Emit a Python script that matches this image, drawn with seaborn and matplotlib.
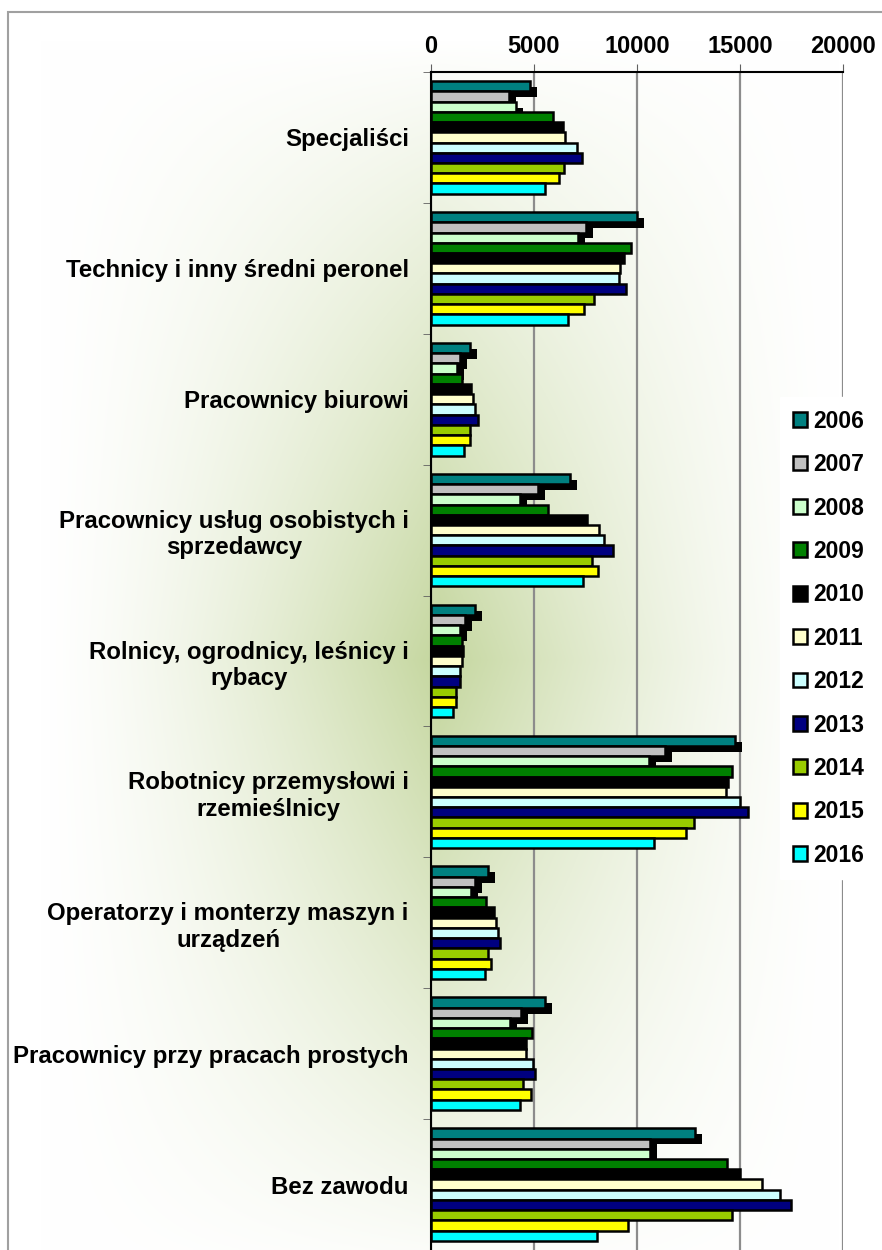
import numpy as np
import pandas as pd
import seaborn as sns
import matplotlib.pyplot as plt
from matplotlib import patheffects
from matplotlib.patches import Rectangle

categories = ["Specjaliści", "Technicy i inny średni peronel", "Pracownicy biurowi",
              "Pracownicy usług osobistych i\nsprzedawcy",
              "Rolnicy, ogrodnicy, leśnicy i\nrybacy",
              "Robotnicy przemysłowi i\nrzemieślnicy",
              "Operatorzy i monterzy maszyn i\nurządzeń",
              "Pracownicy przy pracach prostych", "Bez zawodu"]
years = ["2006", "2007", "2008", "2009", "2010", "2011",
         "2012", "2013", "2014", "2015", "2016"]

# values per year, same order as categories
v2006 = [4820, 10000, 1880, 6760, 2140, 14770, 2750, 5530, 12800]
v2007 = [3770, 7540, 1390, 5180, 1650, 11380, 2120, 4370, 10630]
v2008 = [4140, 7120, 1260, 4340, 1390, 10570, 1940, 3850, 10610]
v2009 = [5900, 9710, 1500, 5700, 1490, 14610, 2690, 4890, 14380]
v2010 = [6390, 9350, 1940, 7570, 1550, 14400, 3070, 4600, 14980]
v2011 = [6490, 9160, 2040, 8140, 1490, 14300, 3150, 4630, 16050]
v2012 = [7090, 9140, 2120, 8380, 1390, 14980, 3240, 4950, 16920]
v2013 = [7330, 9480, 2260, 8820, 1420, 15370, 3330, 5060, 17470]
v2014 = [6470, 7930, 1880, 7820, 1200, 12780, 2750, 4450, 14610]
v2015 = [6210, 7410, 1910, 8090, 1200, 12380, 2930, 4870, 9550]
v2016 = [5550, 6630, 1620, 7360, 1070, 10810, 2600, 4300, 8060]

colors = ["#008080", "#C0C0C0", "#CCFFCC", "#008000", "#000000", "#FFFFCC",
          "#CCFFFF", "#000080", "#99CC00", "#FFFF00", "#00FFFF"]

series = [v2006, v2007, v2008, v2009, v2010, v2011, v2012, v2013, v2014, v2015, v2016]
rows = []
for yr, vals in zip(years, series):
    for cat, v in zip(categories, vals):
        rows.append({"kategoria": cat, "rok": yr, "liczba": v})
df = pd.DataFrame(rows)

sns.set_style("white")
plt.rcParams['font.family'] = ['Liberation Sans', 'DejaVu Sans']
plt.rcParams['text.color'] = 'black'
plt.rcParams['xtick.color'] = 'black'
plt.rcParams['ytick.color'] = 'black'

fig = plt.figure(figsize=(8.82, 12.5), dpi=100)

# background gradient (chart area)
bg = fig.add_axes([8 / 882, 0, 1 - 8 / 882, 1 - 12 / 1250], zorder=-5)
xx, yy = np.meshgrid(np.linspace(8, 882, 440), np.linspace(12, 1250, 620))
fx = np.clip(1 - np.abs(xx - 440) / 400, 0, 1) ** 1.4
fy = np.clip(1 - np.abs(yy - 660) / 620, 0, 1) ** 0.9
w = fx * fy
center = np.array([0.77, 0.84, 0.62])
img = 1 - (1 - center)[None, None, :] * w[:, :, None]
bg.imshow(img, extent=(8, 882, 1250, 12), aspect="auto")
bg.axis("off")
fig.patches.append(Rectangle((8 / 882, -0.1), 1, 1 - 12 / 1250 + 0.1, transform=fig.transFigure,
                             fill=False, edgecolor="#a0a0a0", lw=1.5))

ax = fig.add_axes([431 / 882, 0, 412 / 882, 1178 / 1250])
ax.patch.set_alpha(0)
sns.barplot(data=df, x="liczba", y="kategoria", hue="rok", orient="h", width=0.86,
            palette=colors, saturation=1, edgecolor="black", linewidth=1.8, ax=ax)

# shadow on the first three series
for cont in ax.containers[:3]:
    for p in cont:
        p.set_path_effects([patheffects.SimplePatchShadow(offset=(5, -4.3), shadow_rgbFace="black", alpha=1.0),
                            patheffects.Normal()])

handles, labels = ax.get_legend_handles_labels()
ax.legend(handles, labels, loc="upper left", bbox_to_anchor=(0.847, 0.724), borderaxespad=0,
          frameon=True, facecolor="white", edgecolor="white", framealpha=1, fancybox=False,
          prop=dict(weight="bold", size=16.5), handlelength=0.62, handleheight=0.62,
          handletextpad=0.3, labelspacing=0.89, borderpad=0.55)

ax.set_xlim(0, 20000)
ax.set_ylim(8.5, -0.5)
ax.xaxis.tick_top()
ax.set_xticks([0, 5000, 10000, 15000, 20000])
ax.set_xticklabels(["0", "5000", "10000", "15000", "20000"], fontsize=17, fontweight="bold")
ax.tick_params(axis="x", top=True, length=6, direction="out", color="#606060", pad=4)
ax.grid(axis="x", color="#8c8c8c", linewidth=1.6)
ax.set_axisbelow(True)
ax.set_xlabel("")
ax.set_ylabel("")

ax.set_yticks(range(len(categories)))
ax.set_yticklabels(categories, fontsize=17.3, fontweight="bold")
for lab in ax.get_yticklabels():
    lab.set_multialignment("center")
ax.set_yticks(np.arange(-0.5, 9, 1), minor=True)
ax.tick_params(axis="y", which="major", length=0, pad=16)
ax.tick_params(axis="y", which="minor", length=6, color="#606060", left=True)

for s in ["right", "bottom"]:
    ax.spines[s].set_visible(False)
for s in ["left", "top"]:
    ax.spines[s].set_color("black")
    ax.spines[s].set_linewidth(1.5)

fig.savefig("out.png", dpi=100)
